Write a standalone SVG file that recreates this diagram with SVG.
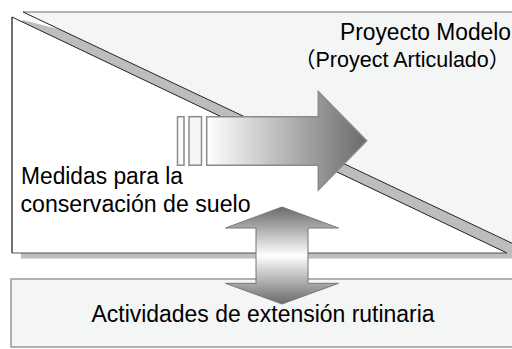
<svg xmlns="http://www.w3.org/2000/svg" width="512" height="349" viewBox="0 0 512 349">
<defs>
<style>
.t{font-family:"Liberation Sans","Noto Sans CJK JP",Arial,sans-serif;font-size:23px;fill:#000}
</style>
<linearGradient id="gh" x1="0" y1="0" x2="1" y2="0">
<stop offset="0" stop-color="#ffffff"/>
<stop offset="1" stop-color="#6a6a6a"/>
</linearGradient>
<linearGradient id="gv" x1="0" y1="0" x2="0" y2="1">
<stop offset="0" stop-color="#6a6a6a"/>
<stop offset="0.5" stop-color="#ffffff"/>
<stop offset="1" stop-color="#6a6a6a"/>
</linearGradient>
</defs>
<rect width="512" height="349" fill="#fff"/>
<g id="extension">
<rect x="11" y="279" width="506" height="68" fill="#f4f5f5" stroke="#999" stroke-width="1.5"/>
<text class="t" x="91.5" y="322" textLength="343" lengthAdjust="spacingAndGlyphs">Actividades de extensión rutinaria</text>
</g>
<g id="shadow">
<polygon points="23,20 60,29.5 512,243.5 512,258.5 21,258.5 21,22" fill="#bdbdbd"/>
</g>
<g id="proyecto">
<polygon points="23,12 520,12 520,247" fill="#f4f5f5"/>
<line x1="23" y1="12" x2="512" y2="12" stroke="#6a6a6a" stroke-width="1"/>
<line x1="23" y1="12" x2="520" y2="247" stroke="#222" stroke-width="1"/>
<text class="t" x="511" y="40" text-anchor="end" textLength="171" lengthAdjust="spacingAndGlyphs">Proyecto Modelo</text>
<text class="t" x="294" y="67" style="font-size:21.5px">（Proyect Articulado）</text>
</g>
<g id="medidas">
<polygon points="12,17 12,253 507,253" fill="#fff"/>
<line x1="12" y1="17" x2="507" y2="253" stroke="#222" stroke-width="1"/>
<line x1="12" y1="17" x2="12" y2="253" stroke="#111" stroke-width="1.2"/>
<line x1="12" y1="253" x2="507" y2="253" stroke="#555" stroke-width="1.2"/>
<text class="t" x="21" y="184" textLength="162" lengthAdjust="spacingAndGlyphs">Medidas para la</text>
<text class="t" x="20.5" y="212" textLength="230" lengthAdjust="spacingAndGlyphs">conservación de suelo</text>
</g>
<g id="connectors">
<g id="arrow-right" stroke="#8a8a8a" stroke-width="1.5">
<rect x="177.5" y="116.7" width="6.5" height="48.5" fill="#fafafa"/>
<rect x="189" y="116.7" width="12.5" height="48.5" fill="#f6f6f6"/>
<polygon points="206.7,116.7 318.3,116.7 318.3,91.7 366.7,140.8 318.3,190 318.3,165.2 206.7,165.2" fill="url(#gh)"/>
</g>
<g id="arrow-updown">
<polygon points="282,207 338.5,228 308,228 308,283.3 338.5,283.3 282,304 225.5,283.3 256,283.3 256,228 225.5,228" fill="url(#gv)" stroke="#777" stroke-width="1"/>
</g>
</g>
</svg>
